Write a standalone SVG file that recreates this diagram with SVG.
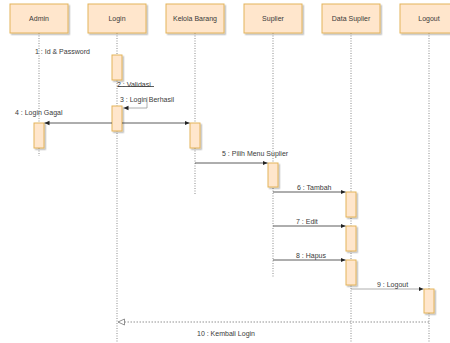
<svg xmlns="http://www.w3.org/2000/svg" width="450" height="343" viewBox="0 0 450 343">
  <style>
    .hdr { fill: #ffe6cc; stroke: #e3b35a; stroke-width: 1; }
    .act { fill: #ffe6cc; stroke: #e3b35a; stroke-width: 1; }
    .life { stroke: #8a8a8a; stroke-width: 1; stroke-dasharray: 1 1.5; fill: none; }
    .msg { stroke: #333; stroke-width: 0.8; fill: none; }
    .msg-lt { stroke: #999; stroke-width: 0.8; fill: none; }
    .ret { stroke: #777; stroke-width: 0.8; stroke-dasharray: 1.5 1.5; fill: none; }
    text { font-family: "Liberation Sans", Arial, sans-serif; font-size: 7px; fill: #3a3a3a; }
    .t { text-anchor: middle; }
  </style>
  <defs>
    <filter id="shadow" x="-20%" y="-20%" width="150%" height="150%">
      <feDropShadow dx="1.5" dy="1.5" stdDeviation="0.6" flood-color="#000" flood-opacity="0.25"/>
    </filter>
    <marker id="arr" markerWidth="6" markerHeight="6" refX="5" refY="3" orient="auto" markerUnits="userSpaceOnUse">
      <path d="M0,0.8 L5,3 L0,5.2 Z" fill="#222"/>
    </marker>
    <marker id="open" markerWidth="9" markerHeight="8" refX="7.5" refY="4" orient="auto" markerUnits="userSpaceOnUse">
      <path d="M1,1 L7.5,4 L1,7 Z" fill="#fff" stroke="#777" stroke-width="0.8"/>
    </marker>
  </defs>
  <rect width="450" height="343" fill="#fff"/>

  <!-- lifelines -->
  <g id="lifelines">
    <line class="life" x1="39" y1="33" x2="39" y2="156"/>
    <line class="life" x1="117" y1="33" x2="117" y2="343"/>
    <line class="life" x1="195" y1="33" x2="195" y2="194"/>
    <line class="life" x1="273" y1="33" x2="273" y2="277"/>
    <line class="life" x1="351" y1="33" x2="351" y2="343"/>
    <line class="life" x1="429" y1="33" x2="429" y2="343"/>
  </g>

  <!-- participants -->
  <g id="admin">
    <rect class="hdr" x="10" y="4" width="58" height="29" filter="url(#shadow)"/>
    <text class="t" x="39" y="21">Admin</text>
    <rect class="act" x="34" y="123" width="10" height="25" filter="url(#shadow)"/>
  </g>
  <g id="login">
    <rect class="hdr" x="88" y="4" width="58" height="29" filter="url(#shadow)"/>
    <text class="t" x="117" y="21">Login</text>
    <rect class="act" x="112" y="55" width="10" height="25" filter="url(#shadow)"/>
    <rect class="act" x="112" y="106" width="10" height="25" filter="url(#shadow)"/>
  </g>
  <g id="kelola-barang">
    <rect class="hdr" x="166" y="4" width="58" height="29" filter="url(#shadow)"/>
    <text class="t" x="195" y="21">Kelola Barang</text>
    <rect class="act" x="190" y="123" width="10" height="25" filter="url(#shadow)"/>
  </g>
  <g id="suplier">
    <rect class="hdr" x="244" y="4" width="58" height="29" filter="url(#shadow)"/>
    <text class="t" x="273" y="21">Suplier</text>
    <rect class="act" x="268" y="163" width="10" height="24" filter="url(#shadow)"/>
  </g>
  <g id="data-suplier">
    <rect class="hdr" x="322" y="4" width="58" height="29" filter="url(#shadow)"/>
    <text class="t" x="351" y="21">Data Suplier</text>
    <rect class="act" x="346" y="192" width="10" height="25" filter="url(#shadow)"/>
    <rect class="act" x="346" y="226" width="10" height="25" filter="url(#shadow)"/>
    <rect class="act" x="346" y="260" width="10" height="25" filter="url(#shadow)"/>
  </g>
  <g id="logout">
    <rect class="hdr" x="400" y="4" width="58" height="29" filter="url(#shadow)"/>
    <text class="t" x="429" y="21">Logout</text>
    <rect class="act" x="424" y="289" width="10" height="24" filter="url(#shadow)"/>
  </g>

  <!-- messages -->
  <g id="connectors">
    <line class="msg" x1="118" y1="86.5" x2="154" y2="86.5"/>
    <path class="msg-lt" d="M147,97 V108 H123.5" marker-end="url(#arr)"/>
    <line class="msg" x1="112" y1="123" x2="44.5" y2="123" marker-end="url(#arr)"/>
    <line class="msg" x1="122" y1="123" x2="189.5" y2="123" marker-end="url(#arr)"/>
    <line class="msg" x1="195" y1="163" x2="267.5" y2="163" marker-end="url(#arr)"/>
    <line class="msg" x1="273" y1="192" x2="345.5" y2="192" marker-end="url(#arr)"/>
    <line class="msg" x1="273" y1="226" x2="345.5" y2="226" marker-end="url(#arr)"/>
    <line class="msg" x1="273" y1="260" x2="345.5" y2="260" marker-end="url(#arr)"/>
    <line class="msg-lt" x1="351" y1="289" x2="423.5" y2="289" marker-end="url(#arr)"/>
    <line class="ret" x1="429" y1="322" x2="118" y2="322" marker-end="url(#open)"/>
  </g>

  <!-- message labels -->
  <g id="labels">
    <text x="35" y="54">1 : Id &amp; Password</text>
    <text x="117" y="87">2 : Validasi</text>
    <text x="120" y="101.5">3 : Login Berhasil</text>
    <text x="15" y="114.5">4 : Login Gagal</text>
    <text x="222" y="156">5 : Pilih Menu Suplier</text>
    <text x="297" y="190">6 : Tambah</text>
    <text x="296" y="224">7 : Edit</text>
    <text x="296" y="258">8 : Hapus</text>
    <text x="377" y="287">9 : Logout</text>
    <text x="197" y="335.5">10 : Kembali Login</text>
  </g>
</svg>
